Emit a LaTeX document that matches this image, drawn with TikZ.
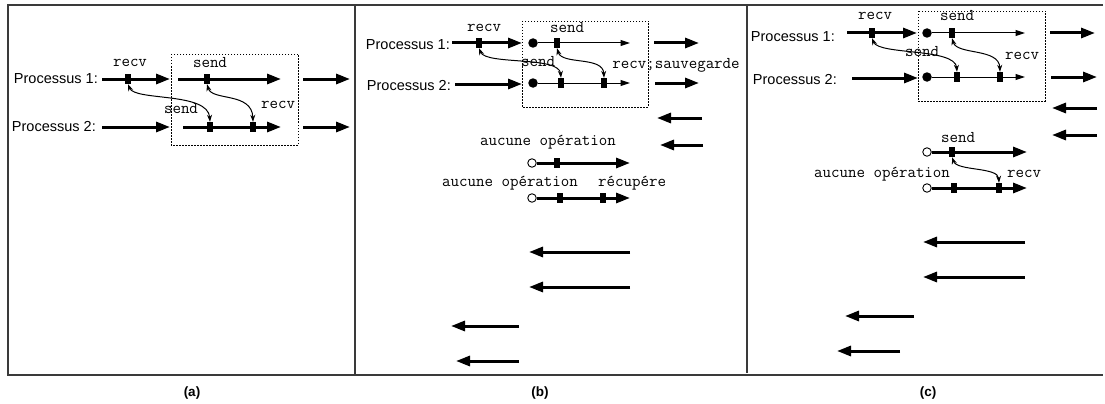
\documentclass[tikz,border=0pt]{standalone}
\usepackage{fontspec}
\setmainfont{Liberation Sans}
\setmonofont{Latin Modern Mono}
\usetikzlibrary{arrows.meta}
\definecolor{framegray}{HTML}{3A3A3A}
\tikzset{
  sq/.style={fill=black, inner sep=0pt, minimum width=6.5pt, minimum height=10pt},
  fdot/.style={circle, fill=black, inner sep=0pt, minimum size=9.5pt},
  odot/.style={circle, draw=black, fill=white, line width=0.9pt, inner sep=0pt, minimum size=8.5pt},
  proc/.style={font=\fontsize{14.5}{16}\selectfont, anchor=east, inner sep=0pt},
  lbl/.style={font=\ttfamily\fontsize{16.5}{18}\selectfont, inner sep=0pt},
  subcap/.style={font=\bfseries\fontsize{13.5}{15}\selectfont, inner sep=0pt},
  thk/.style={line width=3pt, -{Triangle[length=14pt,width=10pt]}},
  thn/.style={line width=1pt, -{Triangle[length=9.5pt,width=6pt]}},
  msg/.style={line width=1pt, {Stealth[length=7pt,width=5pt]}-{Stealth[length=7pt,width=5pt]}},
  dbox/.style={dash pattern=on 1.5pt off 1.5pt, line width=0.9pt},
  frame/.style={draw=framegray, line width=1.5pt}
}
\begin{document}
\begin{tikzpicture}[x=1pt,y=-1pt]
\useasboundingbox (0,0) rectangle (1105,404);
% frame
\coordinate (ftl) at (8,5); \coordinate (ftr) at (1103,5);
\coordinate (fbl) at (8,375); \coordinate (fbr) at (1103,375);
\coordinate (d1t) at (355,5); \coordinate (d1b) at (355,375);
\coordinate (d2t) at (747,5); \coordinate (d2b) at (747,373);
\draw[frame] (ftr) -- (ftl) -- (fbl) -- (fbr);
\draw[frame] (d1t) -- (d1b);
\draw[frame] (d2t) -- (d2b);
\node[subcap] (capa) at (192,393) {(a)};
\node[subcap] (capb) at (540,393) {(b)};
\node[subcap] (capc) at (928,393) {(c)};

% ================= panel (a)
\node[proc] (ap1) at (98,79) {Processus 1:};
\node[proc] (ap2) at (96,127) {Processus 2:};
\draw[dbox] (171,54) rectangle (298,145);
\coordinate (a1a) at (102,79); \coordinate (a1b) at (170,79);
\coordinate (a1c) at (178,79); \coordinate (a1d) at (281,79);
\coordinate (a1f) at (303,79); \coordinate (a1g) at (350,79);
\coordinate (a2a) at (102,127); \coordinate (a2b) at (170,127);
\coordinate (a2c) at (183,127); \coordinate (a2d) at (281,127);
\coordinate (a2f) at (303,127); \coordinate (a2g) at (350,127);
\draw[thk] (a1a) -- (a1b);
\draw[thk] (a1c) -- (a1d);
\draw[thk] (a1f) -- (a1g);
\draw[thk] (a2a) -- (a2b);
\draw[thk] (a2c) -- (a2d);
\draw[thk] (a2f) -- (a2g);
\node[sq] (a1r) at (128,79) {};
\node[sq] (a1s) at (207,79) {};
\node[sq] (a2s) at (210,127) {};
\node[sq] (a2r) at (253,127) {};
\node[lbl] (la1) at (130,63) {recv};
\node[lbl] (la2) at (210,63) {send};
\node[lbl] (la3) at (181,109) {send};
\node[lbl] (la4) at (278,105) {recv};
\draw[msg] (a1r.south) .. controls +(7,17) and +(-2,-30) .. (a2s.north);
\draw[msg] (a1s.south) .. controls +(5,17) and +(-1,-30) .. (a2r.north);

% ================= panel (b)
\node[proc] (bp1) at (450,45) {Processus 1:};
\node[proc] (bp2) at (451,86) {Processus 2:};
\draw[dbox] (522,21) rectangle (648,107);
\coordinate (b1a) at (452,43); \coordinate (b1b) at (522,43);
\coordinate (b1e) at (630,43);
\coordinate (b1f) at (654,43); \coordinate (b1g) at (699,43);
\coordinate (b2a) at (455,84); \coordinate (b2b) at (522,84);
\coordinate (b2e) at (630,83);
\coordinate (b2f) at (655,83); \coordinate (b2g) at (699,83);
\draw[thk] (b1a) -- (b1b);
\draw[thk] (b1f) -- (b1g);
\draw[thk] (b2a) -- (b2b);
\draw[thk] (b2f) -- (b2g);
\node[fdot] (b1o) at (533,43) {};
\node[fdot] (b2o) at (533,83) {};
\draw[thn] (b1o) -- (b1e);
\draw[thn] (b2o) -- (b2e);
\node[sq] (b1r) at (479,43) {};
\node[sq] (b1s) at (557,43) {};
\node[sq] (b2s) at (561,83) {};
\node[sq] (b2r) at (604,83) {};
\node[lbl] (lb1) at (484,28) {recv};
\node[lbl] (lb2) at (567,28) {send};
\node[lbl] (lb3) at (538,62) {send};
\node[lbl] (lb4) at (676,65) {recv;sauvegarde};
\draw[msg] (b1r.south) .. controls +(7,17) and +(-2,-22) .. (b2s.north);
\draw[msg] (b1s.south) .. controls +(5,17) and +(-1,-22) .. (b2r.north);
% returning arrows
\coordinate (b3a) at (702,118); \coordinate (b3b) at (657,118);
\coordinate (b4a) at (703,145); \coordinate (b4b) at (660,145);
\draw[thk] (b3a) -- (b3b);
\draw[thk] (b4a) -- (b4b);
% recovery lines
\node[lbl] (lb5) at (548,142) {aucune opération};
\node[odot] (b5o) at (532,163) {};
\coordinate (b5e) at (630,163);
\draw[thk] (b5o) -- (b5e);
\node[sq] (b5s) at (557,163) {};
\node[lbl] (lb6) at (510,183) {aucune opération};
\node[lbl] (lb7) at (632,183) {récupére};
\node[odot] (b6o) at (532,198) {};
\coordinate (b6e) at (630,198);
\draw[thk] (b6o) -- (b6e);
\node[sq] (b6s) at (560,198) {};
\node[sq] (b6r) at (603,198) {};
% lower arrows
\coordinate (b7a) at (630,252); \coordinate (b7b) at (529,252);
\coordinate (b8a) at (630,287); \coordinate (b8b) at (529,287);
\coordinate (b9a) at (519,326); \coordinate (b9b) at (451,326);
\coordinate (b10a) at (519,361); \coordinate (b10b) at (456,361);
\draw[thk] (b7a) -- (b7b);
\draw[thk] (b8a) -- (b8b);
\draw[thk] (b9a) -- (b9b);
\draw[thk] (b10a) -- (b10b);

% ================= panel (c)
\node[proc] (cp1) at (835,37) {Processus 1:};
\node[proc] (cp2) at (837,80) {Processus 2:};
\draw[dbox] (918,11) rectangle (1045,101);
\coordinate (c1a) at (847,33); \coordinate (c1b) at (917,33);
\coordinate (c1e) at (1025,33);
\coordinate (c1f) at (1050,33); \coordinate (c1g) at (1095,33);
\coordinate (c2a) at (852,78); \coordinate (c2b) at (918,78);
\coordinate (c2e) at (1025,77);
\coordinate (c2f) at (1051,77); \coordinate (c2g) at (1097,77);
\draw[thk] (c1a) -- (c1b);
\draw[thk] (c1f) -- (c1g);
\draw[thk] (c2a) -- (c2b);
\draw[thk] (c2f) -- (c2g);
\node[fdot] (c1o) at (927,33) {};
\node[fdot] (c2o) at (927,77) {};
\draw[thn] (c1o) -- (c1e);
\draw[thn] (c2o) -- (c2e);
\node[sq] (c1r) at (872,33) {};
\node[sq] (c1s) at (952,33) {};
\node[sq] (c2s) at (957,77) {};
\node[sq] (c2r) at (1000,77) {};
\node[lbl] (lc1) at (875,16) {recv};
\node[lbl] (lc2) at (957,16) {send};
\node[lbl] (lc3) at (922,52) {send};
\node[lbl] (lc4) at (1022,56) {recv};
\draw[msg] (c1r.south) .. controls +(7,17) and +(-2,-24) .. (c2s.north);
\draw[msg] (c1s.south) .. controls +(5,17) and +(-1,-24) .. (c2r.north);
% returning arrows
\coordinate (c3a) at (1097,108); \coordinate (c3b) at (1052,108);
\coordinate (c4a) at (1097,135); \coordinate (c4b) at (1052,135);
\draw[thk] (c3a) -- (c3b);
\draw[thk] (c4a) -- (c4b);
% recovery lines
\node[lbl] (lc5) at (958,138) {send};
\node[odot] (c5o) at (927,152) {};
\coordinate (c5e) at (1027,152);
\draw[thk] (c5o) -- (c5e);
\node[sq] (c5s) at (952,152) {};
\node[lbl] (lc6) at (882,174) {aucune opération};
\node[lbl] (lc7) at (1024,174) {recv};
\node[odot] (c6o) at (927,188) {};
\coordinate (c6e) at (1027,188);
\draw[thk] (c6o) -- (c6e);
\node[sq] (c6s) at (954,188) {};
\node[sq] (c6r) at (999,188) {};
\draw[msg] (c5s.south) .. controls +(5,14) and +(-1,-16) .. (c6r.north);
% lower arrows
\coordinate (c7a) at (1025,242); \coordinate (c7b) at (923,242);
\coordinate (c8a) at (1025,277); \coordinate (c8b) at (923,277);
\coordinate (c9a) at (914,316); \coordinate (c9b) at (845,316);
\coordinate (c10a) at (900,351); \coordinate (c10b) at (837,351);
\draw[thk] (c7a) -- (c7b);
\draw[thk] (c8a) -- (c8b);
\draw[thk] (c9a) -- (c9b);
\draw[thk] (c10a) -- (c10b);
\end{tikzpicture}
\end{document}
